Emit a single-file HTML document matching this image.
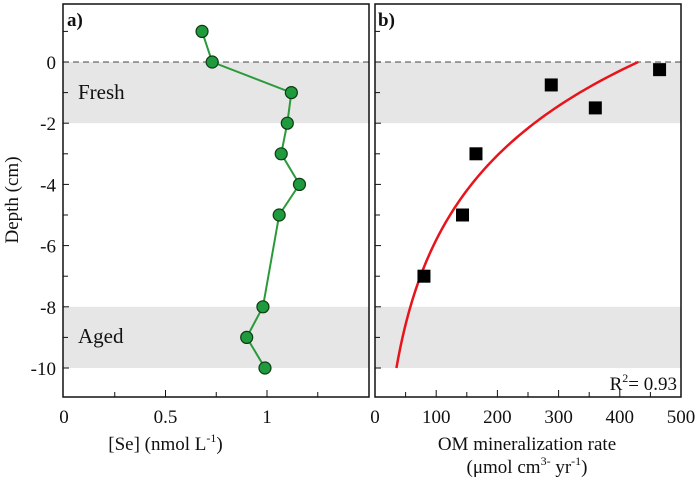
<!DOCTYPE html>
<html><head><meta charset="utf-8"><style>
body{margin:0;background:#fff}
text{font-family:"Liberation Serif",serif;fill:#111}
</style></head><body>
<svg id="chart" width="696" height="481" xmlns="http://www.w3.org/2000/svg"></svg>
<script>
const seVals=[0.68,0.73,1.12,1.10,1.07,1.16,1.06,0.98,0.90,0.99];
const seDepths=[1,0,-1,-2,-3,-4,-5,-8,-9,-10];
const omVals=[465,288,360,165,143,80];
const omDepths=[-0.25,-0.75,-1.5,-3,-5,-7];
const depthTicks=[0,-2,-4,-6,-8,-10];
const seTicks=[0,0.5,1];
const omTicks=[0,100,200,300,400,500];
const fitStart=35, fitEnd=430;
const NS="http://www.w3.org/2000/svg";
const svg=document.getElementById('chart');
function mk(t,a,p){const e=document.createElementNS(NS,t);for(const k in a)e.setAttribute(k,a[k]);(p||svg).appendChild(e);return e;}
const topY=4,bot=397;
const yS=d=>62-d*30.6;
const L={x0:63,x1:369}, R={x0:375,x1:681};
const xL=v=>64+v*203;
const xR=v=>R.x0+v*0.612;
[[L,'band-fresh-a'],[R,'band-fresh-b']].forEach(([P,n])=>{const e=mk('rect',{x:P.x0,y:yS(0),width:P.x1-P.x0,height:yS(-2)-yS(0),fill:'#e6e6e6'});});
[[L,'band-aged-a'],[R,'band-aged-b']].forEach(([P,n])=>{const e=mk('rect',{x:P.x0,y:yS(-8),width:P.x1-P.x0,height:yS(-10)-yS(-8),fill:'#e6e6e6'});});
[L,R].forEach((P,i)=>{const e=mk('line',{x1:P.x0,x2:P.x1,y1:yS(0),y2:yS(0),stroke:'#444','stroke-dasharray':'6,4','stroke-width':1});});
[L,R].forEach((P,i)=>{const e=mk('rect',{x:P.x0,y:topY,width:P.x1-P.x0,height:bot-topY,fill:'none',stroke:'#111','stroke-width':1.5});});
depthTicks.forEach(d=>{const y=yS(d);[L,R].forEach(P=>mk('line',{x1:P.x0,x2:P.x0+6,y1:y,y2:y,stroke:'#111'}));
const t=mk('text',{x:56,y:y+7,'text-anchor':'end','font-size':19});t.textContent=d;});
for(let d=1;d>=-10;d-=1){if(d%2)[L,R].forEach(P=>mk('line',{x1:P.x0,x2:P.x0+5,y1:yS(d),y2:yS(d),stroke:'#111'}));}
for(let v=0.25;v<1.5;v+=0.25){const x=xL(v);mk('line',{x1:x,x2:x,y1:bot,y2:bot-(v%0.5?5:7),stroke:'#111'});}
seTicks.forEach(v=>{const t=mk('text',{x:xL(v),y:423,'text-anchor':'middle','font-size':19});t.textContent=v;});
for(let v=50;v<500;v+=50){const x=xR(v);mk('line',{x1:x,x2:x,y1:bot,y2:bot-(v%100?5:7),stroke:'#111'});}
omTicks.forEach(v=>{const t=mk('text',{x:xR(v),y:423,'text-anchor':'middle','font-size':19});t.textContent=v;});
function txt(x,y,s,n,extra){const t=mk('text',Object.assign({x:x,y:y,'font-size':19},extra||{}));t.innerHTML=s;return t;}
txt(67,26,'<tspan font-weight="bold">a)</tspan>','panel-label-a');
txt(378,26,'<tspan font-weight="bold">b)</tspan>','panel-label-b');
txt(78,99,'Fresh','fresh-label',{'font-size':21});
txt(78,343,'Aged','aged-label',{'font-size':21});
txt(xL(0.5),450,'[Se] (nmol L<tspan font-size="12" dy="-8">-1</tspan><tspan dy="8">)</tspan>','x-axis-title-a',{'text-anchor':'middle'});
txt(527,450,'OM mineralization rate','x-axis-title-b',{'text-anchor':'middle'});
txt(527,473,'(μmol cm<tspan font-size="12" dy="-8">3-</tspan><tspan dy="8"> yr</tspan><tspan font-size="12" dy="-8">-1</tspan><tspan dy="8">)</tspan>','x-axis-title-b-units',{'text-anchor':'middle'});
txt(677,390,'R<tspan font-size="12" dy="-8">2</tspan><tspan dy="8">= 0.93</tspan>','r-squared-label',{'text-anchor':'end'});
txt(18,200,'Depth (cm)','y-axis-title',{'text-anchor':'middle',transform:'rotate(-90 18 200)'});
const line=mk('polyline',{points:seVals.map((v,i)=>xL(v)+','+yS(seDepths[i])).join(' '),fill:'none',stroke:'#2a9a3a','stroke-width':2});

seVals.forEach((v,i)=>{const c=mk('circle',{cx:xL(v),cy:yS(seDepths[i]),r:6,fill:'#1f9a3c',stroke:'#0d3a15','stroke-width':1.2});});
const a=10/Math.log(fitEnd/fitStart);let pts=[];
for(let i=0;i<=80;i++){const x=fitStart*Math.pow(fitEnd/fitStart,i/80);pts.push(xR(x)+','+yS(a*Math.log(x/fitEnd)));}
const f=mk('polyline',{points:pts.join(' '),fill:'none',stroke:'#e8141b','stroke-width':2.5});

omVals.forEach((v,i)=>{const r=mk('rect',{x:xR(v)-6.5,y:yS(omDepths[i])-6.5,width:13,height:13,fill:'#000'});});
</script>
</body></html>
